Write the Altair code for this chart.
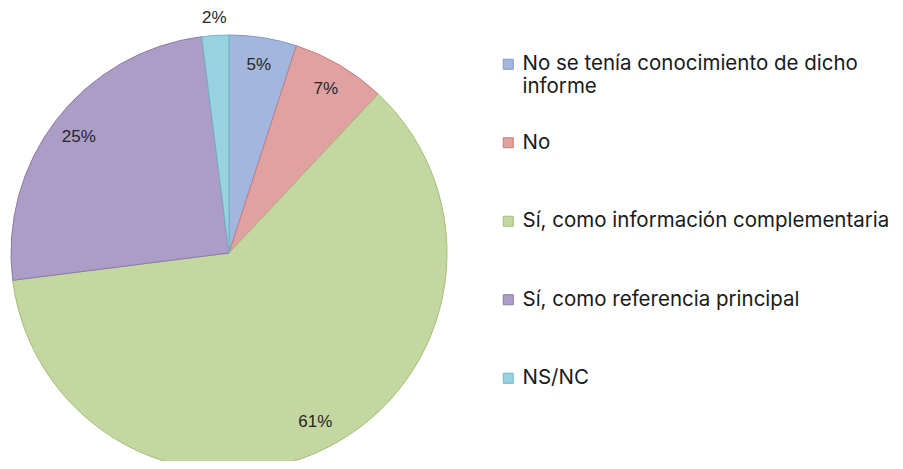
import altair as alt
import pandas as pd

categories = [
    "No se tenía conocimiento de dicho informe",
    "No",
    "Sí, como información complementaria",
    "Sí, como referencia principal",
    "NS/NC",
]
values = [5, 7, 61, 25, 2]
labels = ["5%", "7%", "61%", "25%", "2%"]
fills = ["#a3b6dd", "#dfa2a1", "#c4d7a0", "#ab9dc6", "#98d2df"]
strokes = ["#7f98c8", "#c97b79", "#a3bd7a", "#8a7aaa", "#6fb5c6"]

df = pd.DataFrame({"cat": categories, "value": values, "label": labels, "idx": list(range(len(values)))})

CX, CY, R = 221, 245, 218

pie = alt.Chart(df).mark_arc(outerRadius=R, strokeWidth=1).encode(
    theta=alt.Theta("value:Q", stack=True),
    order=alt.Order("idx:Q"),
    x=alt.value(CX),
    y=alt.value(CY),
    color=alt.Color(
        "cat:N",
        scale=alt.Scale(domain=categories, range=fills),
        sort=categories,
        legend=alt.Legend(
            title=None,
            orient="none",
            legendX=490,
            legendY=46,
            symbolType="square",
            symbolSize=100,
            symbolStrokeWidth=1,
            symbolStrokeColor="#8a9ab8",
            labelFont="Inter",
            labelFontSize=20.5,
            labelColor="#1a1a1a",
            labelLimit=420,
            labelOffset=4,
            gridAlign="all",
            rowPadding=34.5,
            labelExpr="datum.label == 'No se tenía conocimiento de dicho informe' ? ['No se tenía conocimiento de dicho', 'informe'] : datum.label",
        ),
    ),
    stroke=alt.Stroke("cat:N", scale=alt.Scale(domain=categories, range=strokes), legend=None),
)

text = alt.Chart(df).transform_window(
    cum="sum(value)", sort=[alt.SortField("idx")]
).transform_joinaggregate(
    total="sum(value)"
).transform_calculate(
    ang="(datum.cum - datum.value / 2) / datum.total * 2 * PI",
    r="datum.value < 3 ? 235 : 190",
).mark_text(font="Liberation Sans", fontSize=17, color="#262626").encode(
    theta=alt.Theta("ang:Q", scale=None),
    radius=alt.Radius("r:Q", scale=None),
    x=alt.value(CX),
    y=alt.value(CY),
    text="label:N",
)

chart = alt.layer(pie, text).resolve_scale(theta="independent").properties(
    width=887, height=453, padding=0,
    autosize=alt.AutoSizeParams(type="none"),
).configure_view(stroke=None)

chart.save("out.html", embed_options={"renderer": "svg", "actions": False})
